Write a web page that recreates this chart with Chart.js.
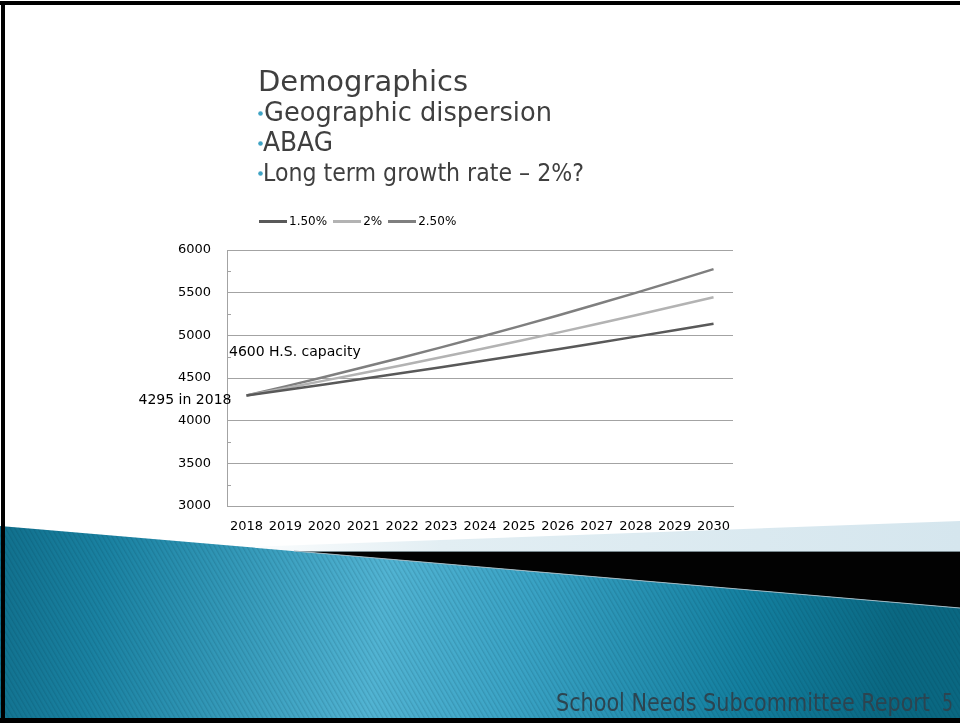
<!DOCTYPE html>
<html>
<head>
<meta charset="utf-8">
<script src="https://cdn.jsdelivr.net/npm/chart.js@4.4.1/dist/chart.umd.min.js"></script>
<style>
  html, body { margin: 0; padding: 0; background: #ffffff; }
  #slide { position: relative; width: 960px; height: 723px; overflow: hidden; background: #ffffff; }
  #bg, #fg { position: absolute; left: 0; top: 0; }
  #chart { position: absolute; left: 0; top: 0; }
  #legend { position: absolute; left: 259px; top: 213px; height: 16px; display: flex; align-items: center;
            font-family: "DejaVu Sans", sans-serif; font-size: 12px; color: #000; }
  #legend .item { display: flex; align-items: center; margin-right: 6px; }
  #legend .swatch { width: 28px; height: 3px; margin-right: 2px; }
</style>
</head>
<body>
<div id="slide">
  <svg id="bg" width="960" height="723" viewBox="0 0 960 723">
    <defs>
      <linearGradient id="blueGrad" x1="0" y1="0" x2="960" y2="120" gradientUnits="userSpaceOnUse">
        <stop offset="0" stop-color="#0b6580"/>
        <stop offset="0.18" stop-color="#1a82a2"/>
        <stop offset="0.47" stop-color="#52b4d3"/>
        <stop offset="0.62" stop-color="#3aa3c5"/>
        <stop offset="0.85" stop-color="#137f9f"/>
        <stop offset="1" stop-color="#0a6882"/>
      </linearGradient>
      <linearGradient id="paleGrad" x1="220" y1="0" x2="960" y2="0" gradientUnits="userSpaceOnUse">
        <stop offset="0" stop-color="#ffffff"/>
        <stop offset="0.3" stop-color="#e2eef3"/>
        <stop offset="1" stop-color="#d5e6ee"/>
      </linearGradient>
      <pattern id="stripes" width="4" height="4" patternUnits="userSpaceOnUse" patternTransform="rotate(-30)">
        <rect x="0" y="0" width="1.3" height="4" fill="#003344" fill-opacity="0.16"/>
      </pattern>
    </defs>
    <!-- pale band above the dark wedge -->
    <polygon points="220,548 960,521 960,551 294,551" fill="url(#paleGrad)"/>
    <!-- dark wedge -->
    <polygon points="294,551 960,551 960,608" fill="#020202"/>
    <line x1="300" y1="551.5" x2="960" y2="551.5" stroke="#7a8a90" stroke-width="1"/>
    <!-- blue swoosh -->
    <polygon points="0,526 960,608 960,723 0,723" fill="url(#blueGrad)"/>
    <polygon points="0,526 960,608 960,723 0,723" fill="url(#stripes)"/>
    <line x1="294" y1="551" x2="960" y2="608" stroke="#9fb8c2" stroke-width="1"/>
    <!-- frame -->
    <rect x="0" y="1" width="960" height="4" fill="#000"/>
    <rect x="1" y="1" width="4" height="722" fill="#000"/>
    <rect x="0" y="718" width="960" height="5" fill="#000"/>
  </svg>
  <canvas id="chart" width="960" height="723"></canvas>
  <svg id="fg" width="960" height="723" viewBox="0 0 960 723" style="pointer-events:none">
    <g font-family="DejaVu Sans, sans-serif" fill="#3f3f3f">
      <text x="258" y="91" font-size="28" textLength="210" lengthAdjust="spacingAndGlyphs">Demographics</text>
      <circle cx="260.5" cy="113.5" r="2.3" fill="#3fa3c4"/>
      <text x="264" y="121" font-size="26" textLength="288" lengthAdjust="spacingAndGlyphs">Geographic dispersion</text>
      <circle cx="260.5" cy="143.5" r="2.3" fill="#3fa3c4"/>
      <text x="263" y="151" font-size="26" textLength="70" lengthAdjust="spacingAndGlyphs">ABAG</text>
      <circle cx="260.5" cy="173.5" r="2.3" fill="#3fa3c4"/>
      <text x="263" y="181" font-size="25" textLength="321" lengthAdjust="spacingAndGlyphs">Long term growth rate – 2%?</text>
    </g>
    <g font-family="Liberation Sans Narrow, DejaVu Sans Condensed, sans-serif" fill="#2c4450" font-size="25">
      <text x="556" y="711" textLength="374" lengthAdjust="spacingAndGlyphs">School Needs Subcommittee Report</text>
      <text x="942" y="711" textLength="11" lengthAdjust="spacingAndGlyphs">5</text>
    </g>
  </svg>
  <div id="legend"></div>
</div>
<script>
// Enrollment projections, 2018-2030, at three long-term growth rates
const years = ['2018', '2019', '2020', '2021', '2022', '2023', '2024', '2025', '2026', '2027', '2028', '2029', '2030'];
const seriesNames = ['1.50%', '2%', '2.50%'];
const growth150 = [4295, 4359, 4425, 4491, 4559, 4627, 4696, 4767, 4838, 4911, 4985, 5059, 5135];
const growth200 = [4295, 4381, 4469, 4558, 4649, 4742, 4837, 4934, 5032, 5133, 5236, 5340, 5447];
const growth250 = [4295, 4402, 4512, 4625, 4741, 4859, 4981, 5105, 5233, 5364, 5498, 5635, 5776];
const yTickValues = [3000, 3500, 4000, 4500, 5000, 5500, 6000];
const capacityNote = { text: '4600 H.S. capacity', value: 4600 };
const startNote = { text: '4295 in 2018', value: 4295 };

const lineColors = ['#595959', '#b3b3b3', '#7f7f7f'];
const gridColor = '#a3a3a3';
const tickFont = { family: 'DejaVu Sans', size: 13 };

// short minor tick marks halfway between the labelled values, inside the plot
const minorTicks = {
  id: 'minorTicks',
  afterDatasetsDraw(chart) {
    const y = chart.scales.y;
    const ctx = chart.ctx;
    const left = chart.chartArea.left;
    ctx.save();
    ctx.strokeStyle = gridColor;
    ctx.lineWidth = 1;
    for (let i = 0; i < yTickValues.length - 1; i++) {
      const mid = (yTickValues[i] + yTickValues[i + 1]) / 2;
      const py = Math.round(y.getPixelForValue(mid)) + 0.5;
      ctx.beginPath();
      ctx.moveTo(left, py);
      ctx.lineTo(left + 4, py);
      ctx.stroke();
    }
    ctx.restore();
  }
};

// text notes next to the plot
const notes = {
  id: 'notes',
  afterDraw(chart) {
    const { x, y } = chart.scales;
    const ctx = chart.ctx;
    ctx.save();
    ctx.fillStyle = '#000';
    ctx.font = '14px "DejaVu Sans"';
    ctx.textBaseline = 'alphabetic';
    ctx.textAlign = 'left';
    ctx.fillText(capacityNote.text, chart.chartArea.left + 2, y.getPixelForValue(capacityNote.value) - 13);
    ctx.textAlign = 'right';
    ctx.fillText(startNote.text, x.getPixelForValue(0) - 15, y.getPixelForValue(startNote.value) + 9);
    ctx.restore();
  }
};

const chart = new Chart(document.getElementById('chart'), {
  type: 'line',
  data: {
    labels: years,
    datasets: [growth150, growth200, growth250].map((values, i) => ({
      label: seriesNames[i],
      data: values,
      borderColor: lineColors[i],
      backgroundColor: lineColors[i],
      borderWidth: 2.5,
      pointRadius: 0,
      tension: 0,
      fill: false
    }))
  },
  options: {
    responsive: false,
    devicePixelRatio: 1,
    animation: false,
    layout: { padding: { left: 0, top: 250, right: 227, bottom: 187 } },
    plugins: { legend: { display: false }, tooltip: { enabled: false } },
    scales: {
      x: {
        offset: true,
        grid: { display: false, drawTicks: false },
        border: { display: true, color: gridColor },
        ticks: { color: '#000', font: tickFont, padding: 13, maxRotation: 0, autoSkip: false },
        afterFit(scale) { scale.height = 30; }
      },
      y: {
        min: yTickValues[0],
        max: yTickValues[yTickValues.length - 1],
        afterBuildTicks(scale) { scale.ticks = yTickValues.map(v => ({ value: v })); },
        grid: { color: gridColor, drawTicks: false },
        border: { display: true, color: gridColor },
        ticks: { color: '#000', font: tickFont, padding: 16, callback: v => String(v) },
        afterFit(scale) { scale.width = 227; }
      }
    }
  },
  plugins: [minorTicks, notes]
});

// legend built from the chart's datasets
const legendEl = document.getElementById('legend');
chart.data.datasets.forEach(ds => {
  const item = document.createElement('span');
  item.className = 'item';
  const sw = document.createElement('span');
  sw.className = 'swatch';
  sw.style.background = ds.borderColor;
  const txt = document.createElement('span');
  txt.textContent = ds.label;
  item.appendChild(sw);
  item.appendChild(txt);
  legendEl.appendChild(item);
});
</script>
</body>
</html>
